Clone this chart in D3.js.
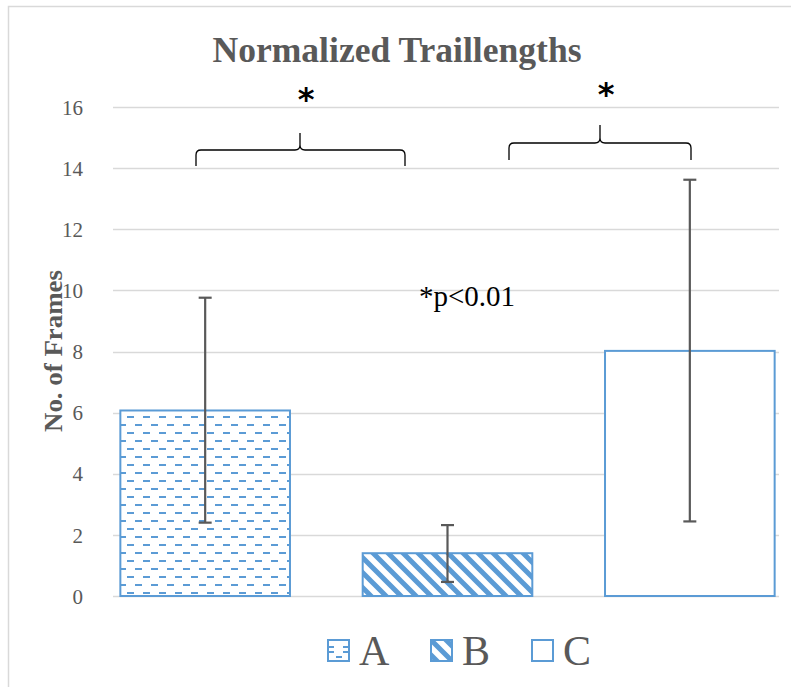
<!DOCTYPE html>
<html>
<head>
<meta charset="utf-8">
<script src="https://cdn.jsdelivr.net/npm/d3@7"></script>
<style>
  html, body { margin: 0; padding: 0; background: #fff; }
  svg { display: block; }
</style>
</head>
<body>
<svg id="chart" width="791" height="687"></svg>
<script>
// Group names, mean trail lengths and error bar limits
const categories = ["A", "B", "C"];
const means = [6.07, 1.4, 8.02];
const errHigh = [9.76, 2.32, 13.62];
const errLow = [2.4, 0.46, 2.44];
const yTicks = [0, 2, 4, 6, 8, 10, 12, 14, 16];
const patterns = ["hdash", "diag", "none"];
// Significance brackets between groups
const brackets = [
  { from: "A", to: "B", label: "*" },
  { from: "B", to: "C", label: "*" }
];

const blue = "#5B9BD5";
const grey = "#595959";
const serif = "'Liberation Serif', 'Times New Roman', serif";

const svg = d3.select("#chart");
const defs = svg.append("defs");

// Dashed horizontal fill
const p1 = defs.append("pattern").attr("id", "hdash")
  .attr("patternUnits", "userSpaceOnUse").attr("width", 16).attr("height", 16)
  .attr("x", 127).attr("y", 416);
p1.append("rect").attr("width", 16).attr("height", 16).attr("fill", "#fff");
p1.append("rect").attr("x", 0).attr("y", 0).attr("width", 7).attr("height", 2).attr("fill", blue);
p1.append("rect").attr("x", 8).attr("y", 8).attr("width", 7).attr("height", 2).attr("fill", blue);

// Wide downward diagonal fill
const p2 = defs.append("pattern").attr("id", "diag")
  .attr("patternUnits", "userSpaceOnUse").attr("width", 15).attr("height", 15);
p2.append("rect").attr("width", 15).attr("height", 15).attr("fill", "#fff");
p2.append("path").attr("d", "M-4,-4 L19,19 M-4,11 L4,19 M11,-4 L19,4")
  .attr("stroke", blue).attr("stroke-width", 5);

// Outer chart frame
svg.append("path").attr("d", "M8.5,687 L8.5,6.5 L791,6.5")
  .attr("fill", "none").attr("stroke", "#d9d9d9").attr("stroke-width", 1.5);

const plotLeft = 113, plotRight = 779;
const x = d3.scaleBand().domain(categories)
  .range([84, 811]).paddingInner(0.3).paddingOuter(0.15);
const y = d3.scaleLinear().domain([0, 16]).range([596, 107]);

// Gridlines
svg.append("g").selectAll("line").data(yTicks).join("line")
  .attr("x1", plotLeft).attr("x2", plotRight)
  .attr("y1", d => Math.round(y(d)) + 0.5).attr("y2", d => Math.round(y(d)) + 0.5)
  .attr("stroke", "#d9d9d9").attr("stroke-width", 1.5);

// Y axis labels
const yAxis = d3.axisLeft(y).tickValues(yTicks).tickSize(0).tickPadding(0);
const ga = svg.append("g").attr("transform", `translate(83,0)`).call(yAxis);
ga.select(".domain").remove();
ga.selectAll("text").attr("font-family", serif).attr("font-size", 21)
  .attr("fill", grey).attr("text-anchor", "end").attr("dy", "0.34em");

// Bars
const bars = categories.map((c, i) => ({ c, v: means[i], hi: errHigh[i], lo: errLow[i], p: patterns[i] }));
svg.append("g").selectAll("rect").data(bars).join("rect")
  .attr("x", d => x(d.c)).attr("width", x.bandwidth())
  .attr("y", d => y(d.v)).attr("height", d => y(0) - y(d.v))
  .attr("fill", d => d.p === "none" ? "#fff" : `url(#${d.p})`)
  .attr("stroke", blue).attr("stroke-width", 2);

// Error bars
const eb = svg.append("g").attr("stroke", grey).attr("stroke-width", 2.2);
bars.forEach(d => {
  const cx = x(d.c) + x.bandwidth() / 2;
  eb.append("line").attr("x1", cx).attr("x2", cx).attr("y1", y(d.hi)).attr("y2", y(d.lo));
  eb.append("line").attr("x1", cx - 6.5).attr("x2", cx + 6.5).attr("y1", y(d.hi)).attr("y2", y(d.hi));
  eb.append("line").attr("x1", cx - 6.5).attr("x2", cx + 6.5).attr("y1", y(d.lo)).attr("y2", y(d.lo));
});

// Title
svg.append("text").attr("x", 397).attr("y", 62).attr("text-anchor", "middle")
  .attr("font-family", serif).attr("font-weight", "bold").attr("font-size", 36)
  .attr("textLength", 369).attr("lengthAdjust", "spacingAndGlyphs")
  .attr("fill", grey).text("Normalized Traillengths");

// Y axis title
svg.append("text").attr("transform", "translate(62,351) rotate(-90)")
  .attr("text-anchor", "middle").attr("font-family", serif).attr("font-weight", "bold")
  .attr("font-size", 26).attr("textLength", 162).attr("lengthAdjust", "spacingAndGlyphs")
  .attr("fill", grey).text("No. of Frames");

// Significance brackets
const brStyle = [
  { x1: 196, x2: 405, xm: 300, yb: 150, yend: 166, ytop: 133, sy: 110 },
  { x1: 509, x2: 691, xm: 600, yb: 143, yend: 160, ytop: 125, sy: 105 }
];
brackets.forEach((b, i) => {
  const s = brStyle[i];
  const r = 5;
  const d = `M${s.x1},${s.yend} L${s.x1},${s.yb + r} Q${s.x1},${s.yb} ${s.x1 + r},${s.yb}` +
    ` L${s.xm - r},${s.yb} Q${s.xm},${s.yb} ${s.xm},${s.yb - r} L${s.xm},${s.ytop}` +
    ` M${s.xm},${s.yb - r} Q${s.xm},${s.yb} ${s.xm + r},${s.yb} L${s.x2 - r},${s.yb}` +
    ` Q${s.x2},${s.yb} ${s.x2},${s.yb + r} L${s.x2},${s.yend}`;
  svg.append("path").attr("d", d).attr("fill", "none").attr("stroke", "#000").attr("stroke-width", 1.3);
  svg.append("text").attr("x", s.xm + 6).attr("y", s.sy).attr("text-anchor", "middle")
    .attr("font-family", "'DejaVu Sans', sans-serif").attr("font-weight", "bold")
    .attr("font-size", 32).attr("fill", "#000").text(b.label);
});

// p-value note
svg.append("text").attr("x", 467).attr("y", 306).attr("text-anchor", "middle")
  .attr("font-family", serif).attr("font-size", 29).attr("fill", "#000").text("*p<0.01");

// Legend
const legX = [327, 430, 531];
const leg = svg.append("g");
categories.forEach((c, i) => {
  const g = leg.append("g").attr("transform", `translate(${legX[i]},639)`);
  g.append("rect").attr("x", 1).attr("y", 1).attr("width", 21).attr("height", 21)
    .attr("fill", patterns[i] === "diag" ? "url(#diag)" : "#fff")
    .attr("stroke", blue).attr("stroke-width", 2);
  if (patterns[i] === "hdash") {
    [[2, 7, 5], [16, 7, 5], [2, 12, 5], [16, 12, 5], [9, 17, 6]].forEach(([dx, dy, w]) =>
      g.append("rect").attr("x", dx).attr("y", dy).attr("width", w).attr("height", 2).attr("fill", blue));
  }
  g.append("text").attr("x", 32).attr("y", 26).attr("font-family", serif)
    .attr("font-size", 42).attr("fill", grey).text(c);
});
</script>
</body>
</html>
